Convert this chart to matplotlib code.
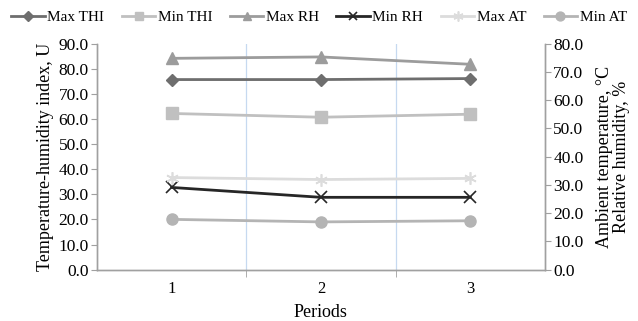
import matplotlib
matplotlib.use("Agg")
import matplotlib.pyplot as plt
from matplotlib.ticker import FixedLocator

plt.rcParams['font.family'] = ['Liberation Serif', 'DejaVu Serif']

periods = [1, 2, 3]
max_thi = [75.7, 75.7, 76.1]
min_thi = [62.2, 60.7, 61.9]
max_rh = [74.8, 75.3, 72.7]
min_rh = [29.1, 25.6, 25.6]
max_at = [32.6, 31.9, 32.3]
min_at = [17.8, 16.9, 17.3]

fig = plt.figure(figsize=(6.38, 3.21), dpi=100)
ax = fig.add_axes([0.152, 0.160, 0.702, 0.704])
ax2 = ax.twinx()

# left axis: THI
l1, = ax.plot(periods, max_thi, color='#6e6e6e', lw=2, marker='D', ms=6, label='Max THI')
l2, = ax.plot(periods, min_thi, color='#c0c0c0', lw=2, marker='s', ms=8, label='Min THI')
# right axis: RH and AT
l3, = ax2.plot(periods, max_rh, color='#9c9c9c', lw=2, marker='^', ms=8, label='Max RH')
l4, = ax2.plot(periods, min_rh, color='#262626', lw=2, marker='x', ms=8, mew=1.2, label='Min RH')
l5, = ax2.plot(periods, max_at, color='#dcdcdc', lw=2, marker=(6, 2, 0), ms=9, mew=1.2,
               label='Max AT')
l6, = ax2.plot(periods, min_at, color='#b4b4b4', lw=2, marker='o', ms=8, label='Min AT')

ax.set_xlim(0.5, 3.5)
ax.set_ylim(0, 90)
ax2.set_ylim(0, 80)
ax.set_yticks(range(0, 91, 10))
ax2.set_yticks(range(0, 81, 10))
ax.set_yticklabels(['%.1f' % v for v in range(0, 91, 10)])
ax2.set_yticklabels(['%.1f' % v for v in range(0, 81, 10)])
ax.set_xticks(periods)
ax.xaxis.set_minor_locator(FixedLocator([1.5, 2.5]))
ax.tick_params(axis='x', which='major', length=0, labelsize=12, pad=8)
ax.tick_params(axis='x', which='minor', length=5, color='#a0a0a0')
ax.tick_params(axis='y', labelsize=12.5, length=4, color='#a0a0a0', pad=2)
ax2.tick_params(axis='y', labelsize=12.5, length=4, color='#a0a0a0', pad=2)

for a in (ax, ax2):
    a.spines['top'].set_visible(False)
    for s in ('left', 'right', 'bottom'):
        a.spines[s].set_color('#a0a0a0')
        a.spines[s].set_linewidth(1)

for x in [1.5, 2.5]:
    ax.axvline(x, color='#c6d9f0', lw=0.9, zorder=0)

ax.set_xlabel('Periods', fontsize=13, labelpad=5)
ax.set_ylabel('Temperature-humidity index, U', fontsize=13, labelpad=3)
ax2.set_ylabel('Ambient temperature, °C\nRelative humidity, %', fontsize=13,
               labelpad=9, linespacing=1.0)

fig.legend(handles=[l1, l2, l3, l4, l5, l6], loc='upper center', ncol=6,
           bbox_to_anchor=(0.5, 1.0), frameon=False, fontsize=11,
           handlelength=2.2, columnspacing=1.15, handletextpad=0.15,
           borderaxespad=0.3, markerscale=0.8)

fig.savefig('out.png', dpi=100)
